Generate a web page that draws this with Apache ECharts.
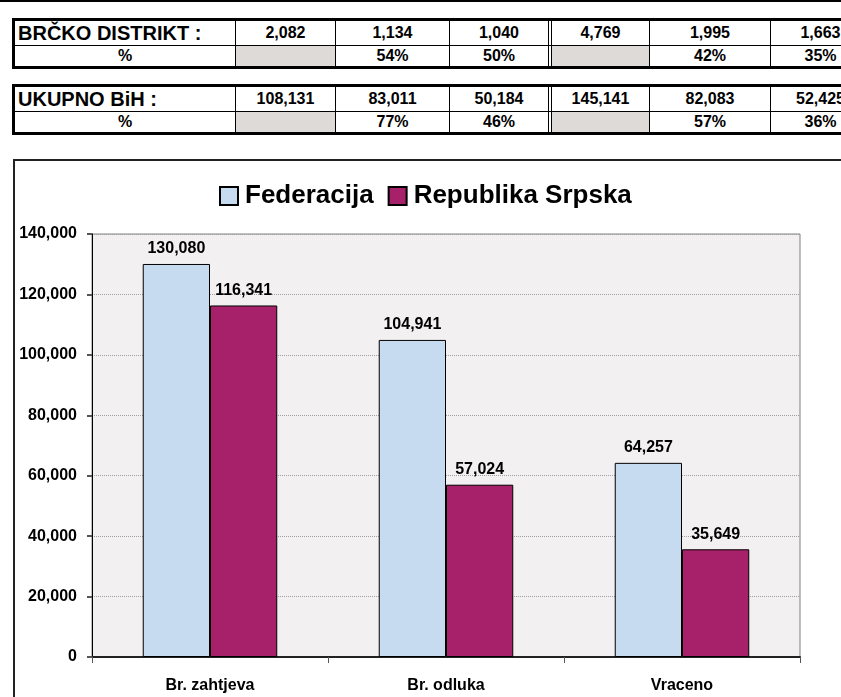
<!DOCTYPE html>
<html>
<head>
<meta charset="utf-8">
<script src="https://cdn.jsdelivr.net/npm/echarts@6/dist/echarts.min.js"></script>
<style>
	body {
		margin: 0;
		width: 841px;
		height: 697px;
		overflow: hidden;
		background: #fff;
		font-family: 'Liberation Sans', Arial, sans-serif;
		font-weight: bold;
		position: relative;
	}
	.topline {
		position: absolute;
		left: 0;
		top: 0;
		width: 841px;
		height: 2px;
		background: #000;
	}
	.tbl {
		position: absolute;
		left: 12px;
		width: 900px;
		border: 3px solid #000;
		border-right: none;
	}
	.row {
		display: flex;
	}
	.row.first {
		border-bottom: 1px solid #000;
	}
	.cell {
		box-sizing: border-box;
		border-right: 1px solid #000;
		text-align: center;
		font-size: 16px;
		white-space: nowrap;
		overflow: hidden;
	}
	.cell.title {
		text-align: left;
		font-size: 20px;
		padding-left: 3px;
	}
	.cell.dbl {
		border-right: 4px double #000;
	}
	.cell.gray {
		background: #dddad8;
	}
	#chart {
		position: absolute;
		left: 13px;
		top: 159px;
		width: 828px;
		height: 538px;
		border-left: 2px solid #222;
		border-top: 2px solid #222;
	}
</style>
</head>
<body>
<div class="topline"></div>
<div id="tables"></div>
<div id="chart"></div>
<script>
	// gornja tabela
	let brckoValues = [2082, 1134, 1040, 4769, 1995, 1663];
	let brckoPct = ['', '54%', '50%', '', '42%', '35%'];
	let bihValues = [108131, 83011, 50184, 145141, 82083, 52425];
	let bihPct = ['', '77%', '46%', '', '57%', '36%'];

	// grafikon
	let categories = ['Br. zahtjeva', 'Br. odluka', 'Vraceno'];
	let federacija = [130080, 104941, 64257];
	let republikaSrpska = [116341, 57024, 35649];
	let yTicks = [0, 20000, 40000, 60000, 80000, 100000, 120000, 140000];

	let fmt = (v) => v.toLocaleString('en-US');

	let colWidths = [221, 100, 114, 102, 98, 121, 100];

	let makeTable = (top, title, values, pct) => {
		let tbl = document.createElement('div');
		tbl.className = 'tbl';
		tbl.style.top = top + 'px';
		let r1 = document.createElement('div');
		r1.className = 'row first';
		let r2 = document.createElement('div');
		r2.className = 'row';
		[title, ...values.map(fmt)].forEach((text, i) => {
			let c = document.createElement('div');
			c.className = 'cell' + (i === 0 ? ' title' : '') + (i === 3 ? ' dbl' : '');
			c.style.width = colWidths[i] + 'px';
			c.style.height = '24px';
			c.style.lineHeight = '24px';
			c.textContent = text;
			r1.appendChild(c);
		});
		['%', ...pct].forEach((text, i) => {
			let c = document.createElement('div');
			c.className = 'cell' + (i === 3 ? ' dbl' : '') + (i > 0 && text === '' ? ' gray' : '');
			c.style.width = colWidths[i] + 'px';
			c.style.height = '20px';
			c.style.lineHeight = '20px';
			c.textContent = text;
			r2.appendChild(c);
		});
		tbl.appendChild(r1);
		tbl.appendChild(r2);
		document.getElementById('tables').appendChild(tbl);
	};

	makeTable(18, 'BRČKO DISTRIKT :', brckoValues, brckoPct);
	makeTable(84, 'UKUPNO BiH :', bihValues, bihPct);

	let chart = echarts.init(document.getElementById('chart'));
	let font = 'Liberation Sans, Arial, sans-serif';

	let barLabel = {
		show: true,
		position: 'top',
		distance: 7,
		fontFamily: font,
		fontWeight: 'bold',
		fontSize: 16,
		color: '#000',
		formatter: (p) => fmt(p.value),
	};

	chart.setOption({
		animation: false,
		legend: {
			left: 199,
			top: 17,
			itemWidth: 18,
			itemHeight: 18,
			itemGap: 14,
			icon: 'rect',
			textStyle: {
				fontFamily: font,
				fontWeight: 'bold',
				fontSize: 26,
				color: '#000',
				padding: [0, 0, 0, 2],
			},
		},
		grid: {
			left: 77,
			top: 73,
			width: 708,
			height: 423,
			show: true,
			backgroundColor: '#f2f0f0',
			borderColor: '#808080',
			borderWidth: 1,
		},
		xAxis: {
			type: 'category',
			data: categories,
			axisLine: {lineStyle: {color: '#222', width: 2}},
			axisTick: {show: true, length: 6, lineStyle: {color: '#555'}},
			axisLabel: {
				margin: 21,
				fontFamily: font,
				fontWeight: 'bold',
				fontSize: 16,
				color: '#000',
			},
		},
		yAxis: {
			type: 'value',
			min: yTicks[0],
			max: yTicks[yTicks.length - 1],
			interval: yTicks[1] - yTicks[0],
			axisLine: {show: true, lineStyle: {color: '#000', width: 1}},
			axisTick: {show: true, length: 5, lineStyle: {color: '#555', width: 2}},
			axisLabel: {
				margin: 15,
				fontFamily: font,
				fontWeight: 'bold',
				fontSize: 16,
				color: '#000',
				formatter: (v) => fmt(v),
			},
			splitLine: {lineStyle: {color: '#a0a0a0', type: 'dotted', width: 1}},
		},
		series: [
			{
				name: 'Federacija',
				type: 'bar',
				data: federacija,
				barGap: '0%',
				barCategoryGap: '43%',
				itemStyle: {color: '#c6daf0', borderColor: '#000', borderWidth: 1},
				label: barLabel,
			},
			{
				name: 'Republika Srpska',
				type: 'bar',
				data: republikaSrpska,
				itemStyle: {color: '#a6206a', borderColor: '#000', borderWidth: 1},
				label: barLabel,
			},
		],
	});
</script>
</body>
</html>
